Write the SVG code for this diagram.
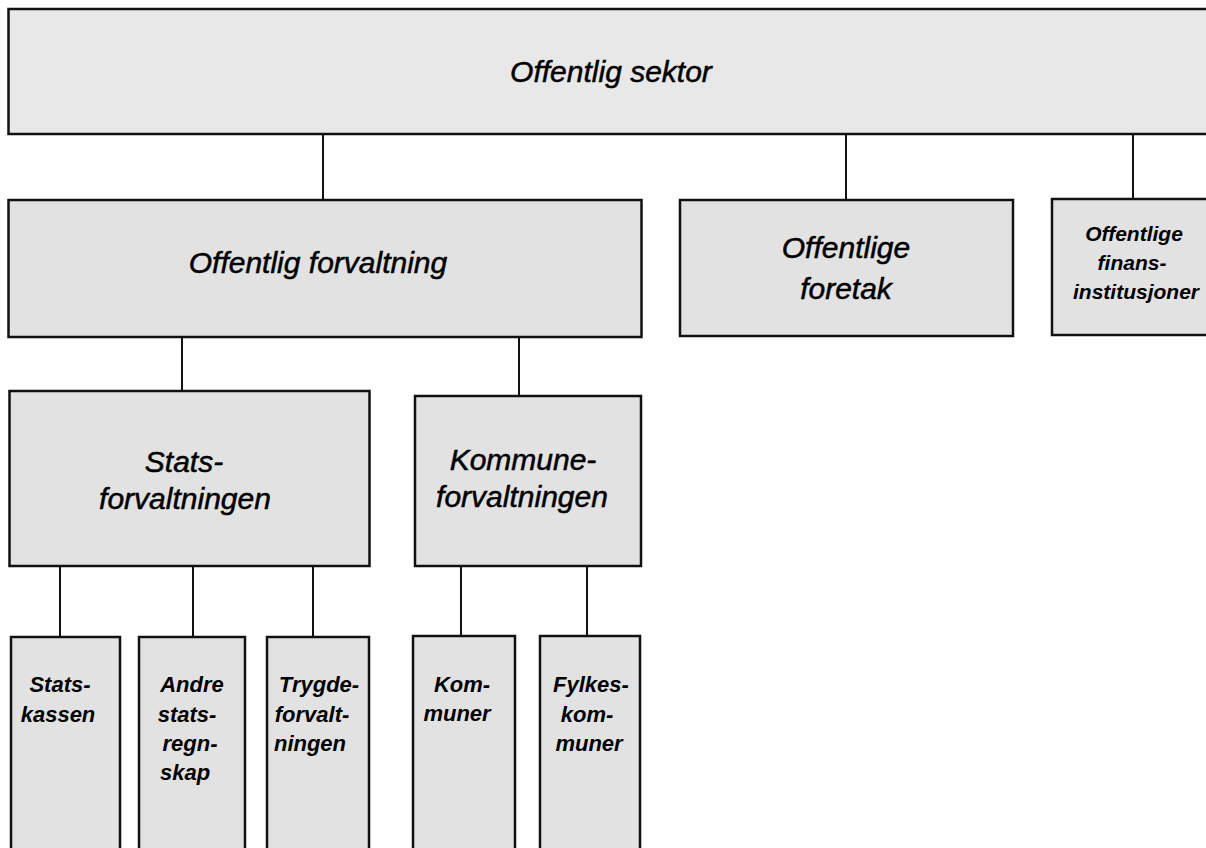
<svg xmlns="http://www.w3.org/2000/svg" width="1206" height="848" viewBox="0 0 1206 848">
<style>
.box{fill:#e2e2e2;stroke:#111;stroke-width:2.5}
.top{fill:#e8e8e8}
.con line{stroke:#111;stroke-width:2}
.big{font-family:"Liberation Sans",Arial,sans-serif;font-style:italic;font-size:30px;fill:#000;stroke:#000;stroke-width:0.5;text-anchor:middle}
.sm{font-family:"Liberation Sans",Arial,sans-serif;font-style:italic;font-weight:bold;font-size:22px;fill:#000;text-anchor:middle}
.fi{font-size:21px}
</style>
<rect width="1206" height="848" fill="#fff"/>
<g class="con">
<line x1="323" y1="134" x2="323" y2="200"/>
<line x1="846" y1="134" x2="846" y2="200"/>
<line x1="1133" y1="134" x2="1133" y2="199"/>
<line x1="182" y1="337" x2="182" y2="391"/>
<line x1="519" y1="337" x2="519" y2="396"/>
<line x1="60" y1="566" x2="60" y2="637"/>
<line x1="193" y1="566" x2="193" y2="637"/>
<line x1="313" y1="566" x2="313" y2="637"/>
<line x1="461" y1="566" x2="461" y2="636"/>
<line x1="587" y1="566" x2="587" y2="636"/>
</g>
<g id="offentlig-sektor">
<rect class="box top" x="8.5" y="9" width="1210" height="125"/>
<text class="big" x="611" y="82">Offentlig sektor</text>
</g>
<g id="offentlig-forvaltning">
<rect class="box" x="8.5" y="200" width="633" height="137"/>
<text class="big" x="318" y="273">Offentlig forvaltning</text>
</g>
<g id="offentlige-foretak">
<rect class="box" x="680" y="200" width="333" height="136"/>
<text class="big" x="846" y="258">Offentlige</text>
<text class="big" x="846" y="299">foretak</text>
</g>
<g id="finansinstitusjoner">
<rect class="box" x="1052" y="199" width="160" height="136"/>
<text class="sm fi" x="1134" y="241">Offentlige</text>
<text class="sm fi" x="1132" y="270">finans-</text>
<text class="sm fi" x="1136" y="299">institusjoner</text>
</g>
<g id="statsforvaltningen">
<rect class="box" x="9.5" y="391" width="360" height="175"/>
<text class="big" x="184" y="472">Stats-</text>
<text class="big" x="185" y="509">forvaltningen</text>
</g>
<g id="kommuneforvaltningen">
<rect class="box" x="415" y="396" width="226" height="170"/>
<text class="big" x="523" y="470">Kommune-</text>
<text class="big" x="522" y="507">forvaltningen</text>
</g>
<g id="statskassen">
<rect class="box" x="11" y="637" width="109" height="230"/>
<text class="sm" x="60" y="692">Stats-</text>
<text class="sm" x="58" y="722">kassen</text>
</g>
<g id="andre-statsregnskap">
<rect class="box" x="139" y="637" width="106" height="230"/>
<text class="sm" x="192" y="692">Andre</text>
<text class="sm" x="187" y="722">stats-</text>
<text class="sm" x="190" y="751">regn-</text>
<text class="sm" x="185" y="780">skap</text>
</g>
<g id="trygdeforvaltningen">
<rect class="box" x="267" y="637" width="102" height="230"/>
<text class="sm" x="319" y="692">Trygde-</text>
<text class="sm" x="312" y="722">forvalt-</text>
<text class="sm" x="310" y="751">ningen</text>
</g>
<g id="kommuner">
<rect class="box" x="413" y="636" width="102" height="230"/>
<text class="sm" x="462" y="692">Kom-</text>
<text class="sm" x="457" y="721">muner</text>
</g>
<g id="fylkeskommuner">
<rect class="box" x="540" y="636" width="100" height="230"/>
<text class="sm" x="591" y="692">Fylkes-</text>
<text class="sm" x="587" y="722">kom-</text>
<text class="sm" x="589" y="751">muner</text>
</g>
</svg>
